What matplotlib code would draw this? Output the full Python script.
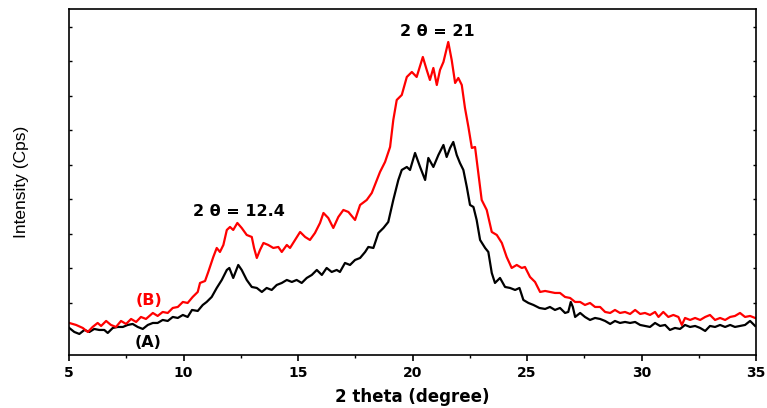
import matplotlib
matplotlib.use('Agg')
import matplotlib.pyplot as plt
from matplotlib.ticker import MultipleLocator

plt.rcParams['font.family'] = ['DejaVu Sans']

# XRD patterns (2 theta in degree, intensity in arbitrary counts)
theta_b = [5.01, 5.31, 5.60, 5.82, 6.03, 6.25, 6.40, 6.62, 6.83, 7.05, 7.27, 7.49,
           7.71, 7.93, 8.14, 8.36, 8.66, 8.87, 9.09, 9.31, 9.53, 9.75, 9.97, 10.18,
           10.40, 10.62, 10.72, 10.94, 11.08, 11.30, 11.45, 11.59, 11.74, 11.89, 12.03,
           12.17, 12.35, 12.54, 12.76, 12.98, 13.08, 13.20, 13.34, 13.49, 13.70, 13.92,
           14.14, 14.29, 14.51, 14.65, 14.87, 15.09, 15.31, 15.52, 15.74, 15.96, 16.11,
           16.32, 16.54, 16.76, 16.98, 17.20, 17.49, 17.71, 18.00, 18.22, 18.44, 18.58,
           18.80, 19.02, 19.16, 19.31, 19.53, 19.75, 19.97, 20.18, 20.45, 20.62, 20.76,
           20.91, 21.06, 21.20, 21.35, 21.56, 21.71, 21.86, 22.00, 22.15, 22.29, 22.44,
           22.59, 22.73, 22.87, 23.02, 23.24, 23.46, 23.68, 23.90, 24.11, 24.33, 24.55,
           24.77, 24.91, 25.13, 25.35, 25.57, 25.79, 26.00, 26.22, 26.44, 26.66, 26.88,
           27.10, 27.32, 27.53, 27.75, 27.97, 28.19, 28.41, 28.63, 28.84, 29.06, 29.28,
           29.50, 29.72, 29.94, 30.15, 30.37, 30.59, 30.74, 30.95, 31.17, 31.39, 31.61,
           31.76, 31.90, 32.12, 32.34, 32.56, 32.78, 32.99, 33.21, 33.43, 33.65, 33.87,
           34.08, 34.30, 34.52, 34.74, 34.96]
int_b = [32, 30, 27, 23, 28, 32, 29, 34, 30, 28, 34, 31,
         36, 33, 38, 36, 42, 39, 43, 42, 47, 48, 53, 52,
         58, 63, 72, 74, 83, 98, 107, 103, 110, 125, 128,
         125, 132, 127, 120, 118, 107, 97, 105, 112, 110, 107,
         108, 103, 110, 107, 115, 123, 118, 115, 122, 132, 142,
         137, 127, 138, 145, 143, 135, 150, 155, 162, 175, 183,
         193, 208, 235, 255, 260, 278, 283, 278, 298, 285, 275,
         287, 270, 285, 293, 313, 295, 272, 277, 270, 247, 228,
         207, 208, 182, 155, 145, 123, 120, 112, 98, 87, 90,
         87, 88, 78, 73, 63, 64, 63, 62, 62, 58, 57,
         53, 53, 50, 52, 48, 48, 43, 42, 45, 42, 43,
         41, 45, 41, 42, 40, 43, 38, 43, 38, 40, 38,
         30, 37, 35, 37, 35, 38, 40, 35, 37, 35, 38,
         39, 42, 38, 39, 37]

theta_a = [5.01, 5.23, 5.45, 5.67, 5.89, 6.10, 6.32, 6.54, 6.69, 6.91, 7.13, 7.35,
           7.56, 7.78, 8.00, 8.22, 8.44, 8.66, 8.87, 9.09, 9.31, 9.53, 9.75, 9.97,
           10.18, 10.37, 10.62, 10.84, 11.01, 11.23, 11.45, 11.67, 11.89, 12.00, 12.17,
           12.39, 12.54, 12.76, 12.98, 13.20, 13.42, 13.63, 13.85, 14.07, 14.29, 14.51,
           14.73, 14.94, 15.16, 15.38, 15.60, 15.82, 16.04, 16.25, 16.47, 16.69, 16.83,
           17.05, 17.27, 17.49, 17.71, 17.93, 18.07, 18.29, 18.51, 18.73, 18.94, 19.16,
           19.38, 19.53, 19.75, 19.89, 20.11, 20.33, 20.55, 20.69, 20.91, 21.13, 21.35,
           21.49, 21.64, 21.78, 21.93, 22.07, 22.22, 22.37, 22.51, 22.66, 22.80, 22.95,
           23.17, 23.31, 23.46, 23.60, 23.82, 24.04, 24.26, 24.48, 24.67, 24.84, 25.06,
           25.28, 25.54, 25.79, 26.00, 26.22, 26.44, 26.66, 26.80, 26.91, 27.00, 27.10,
           27.32, 27.53, 27.75, 27.97, 28.19, 28.41, 28.63, 28.84, 29.06, 29.28, 29.50,
           29.72, 29.94, 30.15, 30.37, 30.59, 30.81, 31.03, 31.24, 31.46, 31.68, 31.90,
           32.12, 32.34, 32.56, 32.78, 32.99, 33.21, 33.43, 33.65, 33.87, 34.08, 34.30,
           34.52, 34.74, 34.96]
int_a = [27, 23, 21, 25, 23, 26, 25, 25, 22, 27, 28, 28,
         30, 31, 28, 26, 30, 32, 32, 35, 34, 38, 37, 40,
         38, 45, 44, 50, 53, 58, 67, 75, 85, 87, 77,
         90, 85, 75, 68, 67, 63, 67, 65, 70, 72, 75,
         73, 75, 72, 77, 80, 85, 80, 87, 83, 85, 83,
         92, 90, 95, 97, 103, 108, 107, 122, 127, 133, 155,
         175, 185, 188, 185, 202, 188, 175, 197, 188, 200, 210,
         198, 207, 213, 200, 192, 185, 168, 150, 148, 135, 115,
         107, 103, 82, 72, 77, 68, 67, 65, 67, 55, 52,
         50, 47, 46, 48, 45, 47, 42, 43, 53, 48, 38,
         42, 38, 35, 37, 36, 34, 31, 34, 32, 33, 32,
         33, 30, 29, 28, 32, 29, 30, 25, 27, 26, 30,
         28, 29, 27, 24, 29, 28, 30, 28, 30, 28, 29,
         30, 34, 29]

fig = plt.figure(figsize=(7.67, 4.08), dpi=100)
ax = fig.add_axes([0.090, 0.130, 0.8957, 0.848])

ax.plot(theta_a, int_a, color='black', lw=1.6)
ax.plot(theta_b, int_b, color='red', lw=1.6)

ax.set_xlim(5, 35)
ax.set_ylim(0, 346)

ax.xaxis.set_major_locator(MultipleLocator(5))
ax.xaxis.set_minor_locator(MultipleLocator(2.5))
ax.set_yticks([52 + 34.5 * k for k in range(9)])
ax.tick_params(axis='x', which='major', direction='out', length=4, width=1.2,
               labelsize=10, pad=4)
ax.tick_params(axis='x', which='minor', direction='out', length=2.5, width=1.0)
ax.tick_params(axis='y', which='major', direction='in', length=2.5, width=1.0,
               left=True, right=True, labelleft=False)
for lbl in ax.get_xticklabels():
    lbl.set_fontweight('bold')
for sp in ax.spines.values():
    sp.set_linewidth(1.2)

ax.set_xlabel('2 theta (degree)', fontsize=12, fontweight='bold', labelpad=6)
ax.set_ylabel('Intensity (Cps)', fontsize=12.5, labelpad=29,
              family=['Liberation Sans', 'DejaVu Sans'])

ax.text(12.4, 143, '2 θ = 12.4', fontsize=11.5, fontweight='bold', ha='center', va='center')
ax.text(21.1, 323, '2 θ = 21', fontsize=11.5, fontweight='bold', ha='center', va='center')
ax.text(8.5, 54, '(B)', fontsize=11.5, fontweight='bold', color='red', ha='center', va='center')
ax.text(8.45, 12, '(A)', fontsize=11.5, fontweight='bold', color='black', ha='center', va='center')

fig.savefig('out.png', dpi=100)
